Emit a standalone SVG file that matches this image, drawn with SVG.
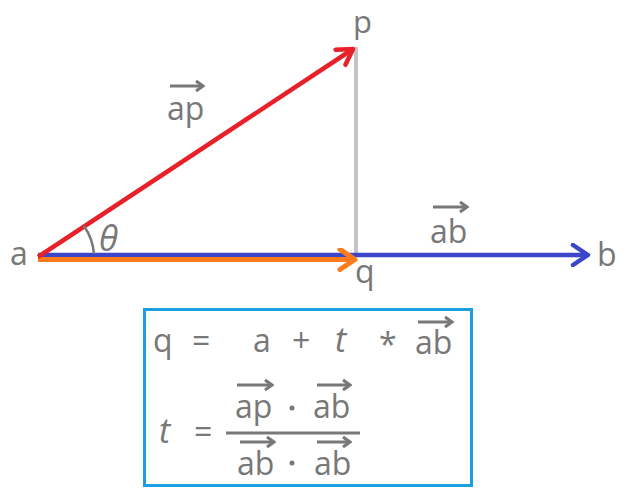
<svg xmlns="http://www.w3.org/2000/svg" width="626" height="495" viewBox="0 0 626 495">
<style>
.t{font-family:"Open Sans","Noto Sans",sans-serif;font-size:32px;font-weight:500;fill:#787878}
.i{font-style:italic}
.ov{stroke:#787878;stroke-width:3;fill:none;marker-end:url(#mg)}
</style>
<defs>
<marker id="mr" markerUnits="userSpaceOnUse" orient="auto" viewBox="-20 -12 24 24" markerWidth="24" markerHeight="24" refX="0" refY="0"><path d="M-15,-9 L0,0 L-15,9" fill="none" stroke="#e8202a" stroke-width="4.5" stroke-linecap="round" stroke-linejoin="round"/></marker>
<marker id="mb" markerUnits="userSpaceOnUse" orient="auto" viewBox="-20 -12 24 24" markerWidth="24" markerHeight="24" refX="0" refY="0"><path d="M-15,-10 L0,0 L-15,10" fill="none" stroke="#3c46c8" stroke-width="4.5" stroke-linecap="round" stroke-linejoin="round"/></marker>
<marker id="mo" markerUnits="userSpaceOnUse" orient="auto" viewBox="-20 -12 24 24" markerWidth="24" markerHeight="24" refX="0" refY="0"><path d="M-15,-10 L0,0 L-15,10" fill="none" stroke="#ff7a1a" stroke-width="5" stroke-linecap="round" stroke-linejoin="round"/></marker>
<marker id="mg" markerUnits="userSpaceOnUse" orient="auto" viewBox="-10 -8 12 16" markerWidth="12" markerHeight="16" refX="0" refY="0"><path d="M-7,-5 L0,0 L-7,5" fill="none" stroke="#787878" stroke-width="3"/></marker>
</defs>
<g id="connectors">
<line x1="356" y1="47" x2="356" y2="255" stroke="#c4c4c4" stroke-width="4"/>
<line x1="38" y1="255" x2="588" y2="255" stroke="#3c46c8" stroke-width="4.5" marker-end="url(#mb)"/>
<line x1="38" y1="259.5" x2="355" y2="259.5" stroke="#ff7a1a" stroke-width="5" marker-end="url(#mo)"/>
<line x1="38" y1="257" x2="353" y2="49" stroke="#e8202a" stroke-width="4.5" marker-end="url(#mr)"/>
<path d="M84,226 A56,56 0 0 1 94,254" fill="none" stroke="#787878" stroke-width="2.5"/>
</g>
<g id="node-a"><text class="t" x="10" y="265">a</text></g>
<g id="node-b"><text class="t" x="597" y="266">b</text></g>
<g id="node-p"><text class="t" x="353" y="33" style="font-size:31px">p</text></g>
<g id="node-q"><text class="t" x="355" y="283">q</text></g>
<g id="label-theta"><text class="t i" x="99" y="251" style="font-size:35px">θ</text></g>
<g id="label-ap">
<line class="ov" x1="170" y1="86" x2="203" y2="86"/>
<text class="t" x="167" y="120">ap</text>
</g>
<g id="label-ab">
<line class="ov" x1="433" y1="207" x2="467" y2="207"/>
<text class="t" x="430" y="243">ab</text>
</g>
<g id="formula">
<rect x="144.5" y="309.5" width="327" height="176" fill="none" stroke="#1aa0e0" stroke-width="3"/>
<text class="t" x="153" y="352">q</text>
<text class="t" x="192" y="352">=</text>
<text class="t" x="253" y="352">a</text>
<text class="t" x="292" y="352">+</text>
<text class="t i" x="335" y="352" style="font-size:34px">t</text>
<text class="t" x="379" y="356">*</text>
<line class="ov" x1="418" y1="322" x2="452" y2="322"/>
<text class="t" x="415" y="354">ab</text>
<text class="t i" x="159" y="443" style="font-size:34px">t</text>
<text class="t" x="194" y="443">=</text>
<line x1="226" y1="433" x2="360" y2="433" stroke="#787878" stroke-width="3"/>
<line class="ov" x1="237" y1="385" x2="272" y2="385"/>
<text class="t" x="235" y="418">ap</text>
<circle cx="292" cy="408" r="2.5" fill="#787878"/>
<line class="ov" x1="317" y1="385" x2="350" y2="385"/>
<text class="t" x="313" y="418">ab</text>
<line class="ov" x1="240" y1="442" x2="274" y2="442"/>
<text class="t" x="237" y="475">ab</text>
<circle cx="292" cy="463" r="2.5" fill="#787878"/>
<line class="ov" x1="317" y1="442" x2="350" y2="442"/>
<text class="t" x="314" y="475">ab</text>
</g>
</svg>
